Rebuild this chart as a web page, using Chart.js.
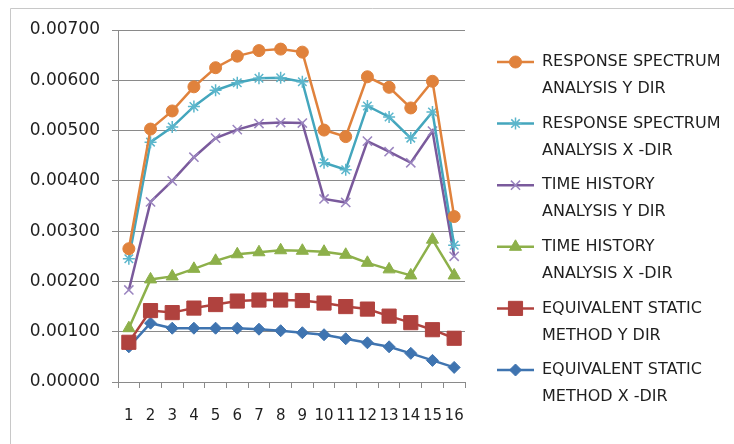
<!DOCTYPE html>
<html>
<head>
<meta charset="utf-8">
<script src="https://cdn.jsdelivr.net/npm/chart.js@4.4.1/dist/chart.umd.min.js"></script>
<style>
html,body{margin:0;padding:0;background:#fff;}
#wrap{width:734px;height:444px;position:relative;}
</style>
</head>
<body>
<div id="wrap"><canvas id="c" width="734" height="444"></canvas></div>
<script>
const categories = ['1','2','3','4','5','6','7','8','9','10','11','12','13','14','15','16'];
const yTicks = [0, 0.001, 0.002, 0.003, 0.004, 0.005, 0.006, 0.007];

const rsY = [0.00265,0.00503,0.00539,0.00587,0.00625,0.00648,0.00659,0.00662,0.00656,0.00501,0.00488,0.00607,0.00586,0.00545,0.00598,0.00329];
const rsX = [0.00245,0.00477,0.00507,0.00548,0.00580,0.00595,0.00604,0.00605,0.00597,0.00436,0.00422,0.00549,0.00527,0.00485,0.00537,0.00272];
const thY = [0.00183,0.00358,0.00400,0.00447,0.00485,0.00502,0.00514,0.00516,0.00515,0.00364,0.00357,0.00479,0.00458,0.00436,0.00499,0.00250];
const thX = [0.00107,0.00204,0.00210,0.00225,0.00241,0.00254,0.00258,0.00262,0.00261,0.00259,0.00253,0.00237,0.00224,0.00212,0.00283,0.00212];
const esY = [0.00079,0.00142,0.00138,0.00147,0.00154,0.00161,0.00163,0.00163,0.00162,0.00157,0.00150,0.00145,0.00131,0.00118,0.00104,0.00087];
const esX = [0.00070,0.00117,0.00107,0.00107,0.00107,0.00107,0.00105,0.00102,0.00098,0.00094,0.00086,0.00078,0.00070,0.00057,0.00043,0.00029];

const seriesNames = [
  ['RESPONSE SPECTRUM','ANALYSIS Y DIR'],
  ['RESPONSE SPECTRUM','ANALYSIS X -DIR'],
  ['TIME HISTORY','ANALYSIS Y DIR'],
  ['TIME HISTORY','ANALYSIS X -DIR'],
  ['EQUIVALENT STATIC','METHOD Y DIR'],
  ['EQUIVALENT STATIC','METHOD X -DIR']
];

const FONT = 'DejaVu Sans';
const TEXT = '#1f1f1f';
const GRID = '#8a8a8a';

function ds(label, data, color, ptColor, style, radius, bw) {
  return {
    label: label.join(' '),
    data: data,
    borderColor: color,
    backgroundColor: ptColor,
    pointBackgroundColor: ptColor,
    pointBorderColor: ptColor,
    pointStyle: style,
    pointRadius: radius,
    pointHoverRadius: radius,
    pointBorderWidth: bw,
    borderWidth: 2.5,
    tension: 0,
    fill: false
  };
}

const datasets = [
  ds(seriesNames[0], rsY, '#e0823c', '#e0823c', 'circle', 6, 1),
  ds(seriesNames[1], rsX, '#44a6bd', '#5bb6cc', 'star', 6, 1.5),
  ds(seriesNames[2], thY, '#7a5a9c', '#9a84bf', 'crossRot', 6.5, 1.5),
  ds(seriesNames[3], thX, '#8db04a', '#8db04a', 'triangle', 7, 1),
  ds(seriesNames[4], esY, '#b0423e', '#b0423e', 'rect', 10, 1),
  ds(seriesNames[5], esX, '#3f74b0', '#3f74b0', 'rectRot', 6, 1)
];

const framePlugin = {
  id: 'frame',
  beforeDraw(chart) {
    const ctx = chart.ctx;
    ctx.save();
    ctx.fillStyle = '#fff';
    ctx.fillRect(0, 0, chart.width, chart.height);
    ctx.strokeStyle = '#c8c8c8';
    ctx.lineWidth = 1;
    ctx.beginPath();
    ctx.moveTo(10.5, chart.height);
    ctx.lineTo(10.5, 8.5);
    ctx.lineTo(chart.width, 8.5);
    ctx.stroke();
    ctx.restore();
  }
};

const legendPlugin = {
  id: 'customLegend',
  afterDraw(chart) {
    const ctx = chart.ctx;
    ctx.save();
    ctx.font = '16px "' + FONT + '"';
    ctx.textBaseline = 'middle';
    ctx.textAlign = 'left';
    const x0 = 497, x1 = 534, tx = 542;
    const startY = 62, step = 61.6, lineGap = 27;
    chart.data.datasets.forEach((d, i) => {
      const y = startY + i * step;
      ctx.strokeStyle = d.borderColor;
      ctx.lineWidth = d.borderWidth;
      ctx.beginPath();
      ctx.moveTo(x0, y);
      ctx.lineTo(x1, y);
      ctx.stroke();
      ctx.fillStyle = d.pointBackgroundColor;
      ctx.strokeStyle = d.pointBorderColor;
      ctx.lineWidth = d.pointBorderWidth;
      Chart.helpers.drawPoint(ctx, {pointStyle: d.pointStyle, radius: d.pointRadius, rotation: 0, borderWidth: d.pointBorderWidth}, (x0 + x1) / 2, y);
      ctx.fillStyle = TEXT;
      seriesNames[i].forEach((t, k) => ctx.fillText(t, tx, y + k * lineGap));
    });
    ctx.restore();
  }
};

new Chart(document.getElementById('c'), {
  type: 'line',
  data: { labels: categories, datasets: datasets },
  plugins: [framePlugin, legendPlugin],
  options: {
    responsive: false,
    animation: false,
    layout: { padding: { left: 10, top: 30, right: 269, bottom: 10 } },
    plugins: { legend: { display: false }, tooltip: { enabled: false } },
    scales: {
      x: {
        type: 'category',
        offset: true,
        grid: { offset: true, drawOnChartArea: false, drawTicks: true, tickLength: 6, color: GRID },
        border: { color: GRID, width: 1 },
        ticks: { autoSkip: false, maxRotation: 0, minRotation: 0, padding: 19, color: TEXT, font: { family: FONT, size: 15 } },
        afterFit(scale) { scale.height = 52; }
      },
      y: {
        min: 0, max: 0.007,
        afterBuildTicks(scale) { scale.ticks = yTicks.map(v => ({ value: v })); },
        grid: { color: GRID, tickLength: 6, drawTicks: true },
        border: { color: GRID, width: 1 },
        ticks: { padding: 12, color: TEXT, font: { family: FONT, size: 17 }, callback: v => Number(v).toFixed(5) },
        afterFit(scale) { scale.width = 108; }
      }
    }
  }
});
</script>
</body>
</html>
